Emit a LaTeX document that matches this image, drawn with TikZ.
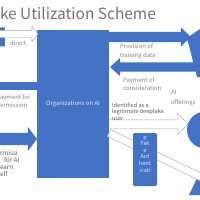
\documentclass[tikz,border=0pt]{standalone}
\usepackage{fontspec}
\setmainfont{Noto Sans CJK JP}
\usetikzlibrary{shapes.arrows, shapes.geometric, positioning}
\definecolor{schemeblue}{HTML}{4472C4}
\definecolor{schemegray}{HTML}{808080}
\definecolor{schemedark}{HTML}{595959}
\definecolor{schemeline}{HTML}{A5A5A5}
\definecolor{schemepale}{HTML}{DCE6F5}

\begin{document}
\begin{tikzpicture}[
    x=0.05cm, y=-0.05cm,
    every node/.style={font=\fontsize{8.5}{10}\selectfont, inner sep=0pt, outer sep=0pt},
    blockarrow/.style={single arrow, fill=schemeblue, draw=none, anchor=tail, minimum width=0pt, inner xsep=0pt},
    hollowarrow/.style={single arrow, fill=white, draw=schemeline, line width=0.6pt, anchor=tail, minimum width=0pt, inner xsep=0pt},
    note/.style={anchor=west, align=left, text=schemegray},
    darknote/.style={anchor=west, align=left, text=schemedark},
    orgbox/.style={fill=schemeblue, minimum width=3.6cm, minimum height=7.4cm, text=schemepale},
    scrollbox/.style={fill=schemeblue, rounded corners=2pt, minimum width=1.2cm, minimum height=2.65cm}
]
    \useasboundingbox (0,0) rectangle (200,200);
    \clip (0,0) rectangle (200,200);

    % Title
    \node[anchor=base west, font=\fontsize{22}{26}\selectfont, text=schemedark!85] (title) at (0,20) {ke Utilization Scheme};

    % Right hand shapes
    \fill[schemeblue] (187,38) -- (200,29) -- (200,77) -- (197,77) -- cycle;
    \node[circle, fill=schemeblue, minimum size=1.85cm] (offerer) at (205.5,130) {};
    \fill[schemeblue] (189,195) -- (200,172) -- (200,195) -- cycle;

    % Central organization
    \node[orgbox] (org) at (73,104) {Organizations on AI};

    % Left side
    \node[cylinder, shape border rotate=90, aspect=0.3, fill=schemeblue, minimum width=0.6cm, minimum height=0.95cm] (store) at (-1,37) {};
    \node[hollowarrow, inner ysep=0.175cm, single arrow head extend=0.2cm, single arrow tip angle=103, minimum height=2.1cm] (direct) at (-4,34) {};
    \node[note] (directtxt) at (10,43) {direct};
    \node[fill=schemeblue, minimum width=2.1cm, minimum height=0.4cm] (paybar) at (16,86) {};
    \node[note, font=\fontsize{8.5}{11.4}\selectfont] (paytxt) at (0,101) {ayment for\\ermission};
    \node[blockarrow, inner ysep=0.3cm, single arrow head extend=0.3cm, single arrow tip angle=106, minimum height=2.05cm] (permit) at (-4,139) {};
    \node[darknote, font=\fontsize{9}{10}\selectfont] (permittxt) at (0,164) {rmissi\\\hspace*{6pt}for AI\\earn\\elf};

    % Right side arrows
    \node[blockarrow, inner ysep=0.25cm, single arrow head extend=0.225cm, single arrow tip angle=87, minimum height=4.1cm] (provide) at (109,37) {};
    \node[note, font=\fontsize{8.5}{12}\selectfont] (providetxt) at (120,51.5) {Provision of\\training data};
    \node[blockarrow, rotate=180, inner ysep=0.225cm, single arrow head extend=0.225cm, single arrow tip angle=84, minimum height=4.35cm] (payback) at (197,67) {};
    \node[note, font=\fontsize{8.5}{10.6}\selectfont] (paybacktxt) at (123,84) {Payment of\\consideration};
    \node[note, font=\fontsize{8.5}{13}\selectfont] (offertxt) at (171,98) {AI\\offerings};
    \node[hollowarrow, inner ysep=0.2cm, single arrow head extend=0.325cm, single arrow tip angle=93, minimum height=3.95cm] (identify) at (109,124) {};
    \node[darknote, font=\fontsize{8}{9.3}\selectfont] (identifytxt) at (112,111.5) {Identified as a\\legitimate deepfake\\user};
    \node[hollowarrow, rotate=-25.6, inner ysep=0.175cm, single arrow head extend=0.25cm, minimum height=6cm] (verify) at (109,133) {};

    % Authentication scroll
    \node[scrollbox] (auth) at (145,159.5) {};
    \node[below=0.15cm of auth.north, anchor=north, align=center, text=schemepale, font=\fontsize{8}{9.4}\selectfont] (authtxt) {p\\Fak\\e\\Aut\\hent\\icati};
\end{tikzpicture}
\end{document}
